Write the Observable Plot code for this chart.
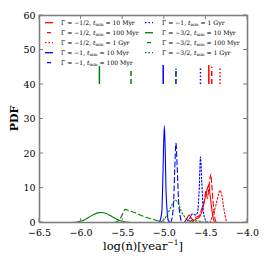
<!DOCTYPE html>
<html><head><meta charset="utf-8">
<script src="https://cdn.jsdelivr.net/npm/d3@7"></script>
<script src="https://cdn.jsdelivr.net/npm/@observablehq/plot@0.6"></script>
<style>
body{margin:0;background:#fff;}
#chart{width:266px;height:266px;}
</style>
</head><body><div id="chart"></div>
<script>
// ---- data ----
const gammaLabels = ["−1/2","−1/2","−1/2","−1","−1","−1","−3/2","−3/2","−3/2"];
const tminLabels = ["10 Myr","100 Myr","1 Gyr","10 Myr","100 Myr","1 Gyr","10 Myr","100 Myr","1 Gyr"];
const xTicks = [-6.5,-6.0,-5.5,-5.0,-4.5,-4.0];
const yTicks = [0,10,20,30,40,50,60];

const redSolidX = [-4.76,-4.72,-4.70,-4.68,-4.65,-4.62,-4.58,-4.55,-4.52,-4.50,-4.48,-4.465,-4.45,-4.43,-4.41,-4.39];
const redSolidY = [0,1.5,2.2,1.5,0.6,1.0,1.5,3,6,8,10,11,8,4,1,0];
const redDashX = [-4.70,-4.66,-4.62,-4.58,-4.55,-4.52,-4.50,-4.48,-4.465,-4.45,-4.44,-4.43,-4.41,-4.39,-4.37];
const redDashY = [0,0.8,1.5,2,4,6,9,7,10,13,14,11,5,1,0];
const redDotX = [-4.45,-4.42,-4.38,-4.35,-4.33,-4.31,-4.29,-4.27,-4.25];
const redDotY = [0,2,5,8,9.3,8,5,2,0];
const blueSolidX = [-5.06,-5.03,-5.015,-5.0,-4.99,-4.98,-4.965,-4.95,-4.93];
const blueSolidY = [0,3,15,28,22,10,3,0.5,0];
const blueDashX = [-4.92,-4.89,-4.875,-4.86,-4.845,-4.83,-4.81,-4.79];
const blueDashY = [0,5,15,23,16,7,2,0];
const blueDotX = [-4.76,-4.70,-4.66,-4.62,-4.60,-4.58,-4.565,-4.55,-4.53,-4.50,-4.47];
const blueDotY = [0,1,2.5,2.2,3,10,19,12,3,0.5,0];
const greenSolidX = [-6.10,-6.05,-6.00,-5.95,-5.90,-5.85,-5.80,-5.75,-5.70,-5.65,-5.60,-5.55,-5.50,-5.45,-5.40,-5.30];
const greenSolidY = [0,0.1,0.4,0.9,1.6,2.3,2.8,2.9,2.6,2.0,1.3,0.7,0.3,0.1,0,0];
const greenDashX = [-5.60,-5.55,-5.50,-5.47,-5.43,-5.35,-5.25,-5.15,-5.08,-5.03,-5.00];
const greenDashY = [0,0.5,2.5,3.8,3.5,2.8,1.8,1.0,0.5,0.2,0];
const greenDotX = [-5.05,-5.00,-4.95,-4.90,-4.87,-4.83,-4.80,-4.75,-4.70,-4.65,-4.60,-4.55,-4.50];
const greenDotY = [0,1,3,5.5,6.5,5.5,3.5,1.5,0.5,0.3,0.5,0.2,0];

const seriesX = [redSolidX,redDashX,redDotX,blueSolidX,blueDashX,blueDotX,greenSolidX,greenDashX,greenDotX];
const seriesY = [redSolidY,redDashY,redDotY,blueSolidY,blueDashY,blueDotY,greenSolidY,greenDashY,greenDotY];
const medians = [-4.465,-4.43,-4.33,-5.013,-4.86,-4.565,-5.78,-5.40,-4.86];
const markerLow = [40,40,40,40,40,40,40,40,40];
const markerHigh = [45.5,45,44.6,45.5,44.6,44.6,45.2,44,44.6];

// ---- styles ----
const colors = ["#ff0000","#ff0000","#ff0000","#0000ff","#0000ff","#0000ff","#008000","#008000","#008000"];
const dashes = ["none","5,3","1.5,2","none","5,3","1.5,2","none","5,3","1.5,2"];

const W = 266, H = 266;
const mL = 39, mR = 19, mT = 15, mB = 44;
const serif = "'DejaVu Serif', 'Liberation Serif', serif";

const rows = [];
seriesX.forEach((xs,i)=>xs.forEach((x,j)=>rows.push({s:i,x,y:seriesY[i][j]})));
const markers = medians.map((m,i)=>({s:i,x:m,y1:markerLow[i],y2:markerHigh[i]}));

const marks = [];
for (let i=0;i<9;i++){
  marks.push(Plot.line(rows.filter(d=>d.s===i),{x:"x",y:"y",stroke:colors[i],strokeWidth:1.1,strokeDasharray:dashes[i],curve:"monotone-x"}));
  marks.push(Plot.ruleX(markers.filter(d=>d.s===i),{x:"x",y1:"y1",y2:"y2",stroke:colors[i],strokeWidth:1.5,strokeDasharray:dashes[i]}));
}
const plot = Plot.plot({
  width:W,height:H,marginLeft:mL,marginRight:mR,marginTop:mT,marginBottom:mB,
  style:{fontFamily:serif,background:"#fff",overflow:"visible"},
  x:{domain:[-6.5,-4.0]},
  y:{domain:[0,60]},
  marks:[
    ...marks,
    Plot.axisX(xTicks,{anchor:"bottom",tickSize:0,tickPadding:7,tickFormat:d=>d.toFixed(1).replace("-","−"),fontSize:9.5,fill:"#000",label:null}),
    Plot.axisY(yTicks,{anchor:"left",tickSize:0,tickPadding:4,tickFormat:d=>String(d),fontSize:9.5,fill:"#000",label:null}),
    Plot.frame({stroke:"#808080",strokeWidth:1.6})
  ]
});
document.getElementById("chart").appendChild(plot);

const svg = d3.select(plot);
const xs = plot.scale("x"), ys = plot.scale("y");
// inward ticks on all four sides
const tg = svg.append("g").attr("stroke","#808080").attr("stroke-width",1);
xTicks.forEach(t=>{
  const px = xs.apply(t);
  tg.append("line").attr("x1",px).attr("x2",px).attr("y1",H-mB).attr("y2",H-mB-4);
  tg.append("line").attr("x1",px).attr("x2",px).attr("y1",mT).attr("y2",mT+4);
});
yTicks.forEach(t=>{
  const py = ys.apply(t);
  tg.append("line").attr("y1",py).attr("y2",py).attr("x1",mL).attr("x2",mL+4);
  tg.append("line").attr("y1",py).attr("y2",py).attr("x1",W-mR).attr("x2",W-mR-4);
});

// axis labels
svg.append("text").attr("x",(mL+W-mR)/2).attr("y",250).attr("text-anchor","middle")
  .attr("font-family",serif).attr("font-size",11.5)
  .call(t=>{t.append("tspan").text("log(");t.append("tspan").text("ṅ");t.append("tspan").text(")[year");
    t.append("tspan").attr("font-size",7.5).attr("dy",-5).text("−1");t.append("tspan").attr("dy",5).text("]");});
svg.append("text").attr("transform",`translate(15,${(mT+H-mB)/2}) rotate(-90)`).attr("text-anchor","middle")
  .attr("dominant-baseline","middle").attr("font-family",serif).attr("font-size",11).attr("font-weight","bold").text("PDF");

// legend
const lg = svg.append("g").attr("text-anchor","start");
const cols = [{lx:45,tx:61},{lx:145,tx:162}];
for (let i=0;i<9;i++){
  const c = i<5?0:1, r = i<5?i:i-5;
  const cy = 22.7 + r*10;
  lg.append("line").attr("x1",cols[c].lx).attr("x2",cols[c].lx+8).attr("y1",cy).attr("y2",cy)
    .attr("stroke",colors[i]).attr("stroke-width",1.3).attr("stroke-dasharray",dashes[i]==="5,3"?"0,2,4,2":dashes[i]);
  const t = lg.append("text").attr("x",cols[c].tx).attr("y",cy).attr("dy","0.35em").attr("text-anchor","start")
    .attr("font-family",serif).attr("font-size",6.1).attr("fill","#000");
  t.append("tspan").text(`Γ = ${gammaLabels[i]}, `);
  t.append("tspan").attr("font-style","italic").text("t");
  t.append("tspan").attr("font-size",4.2).attr("dy",1.5).text("min");
  t.append("tspan").attr("dy",-1.5).text(` = ${tminLabels[i]}`);
}
</script>
</body></html>
